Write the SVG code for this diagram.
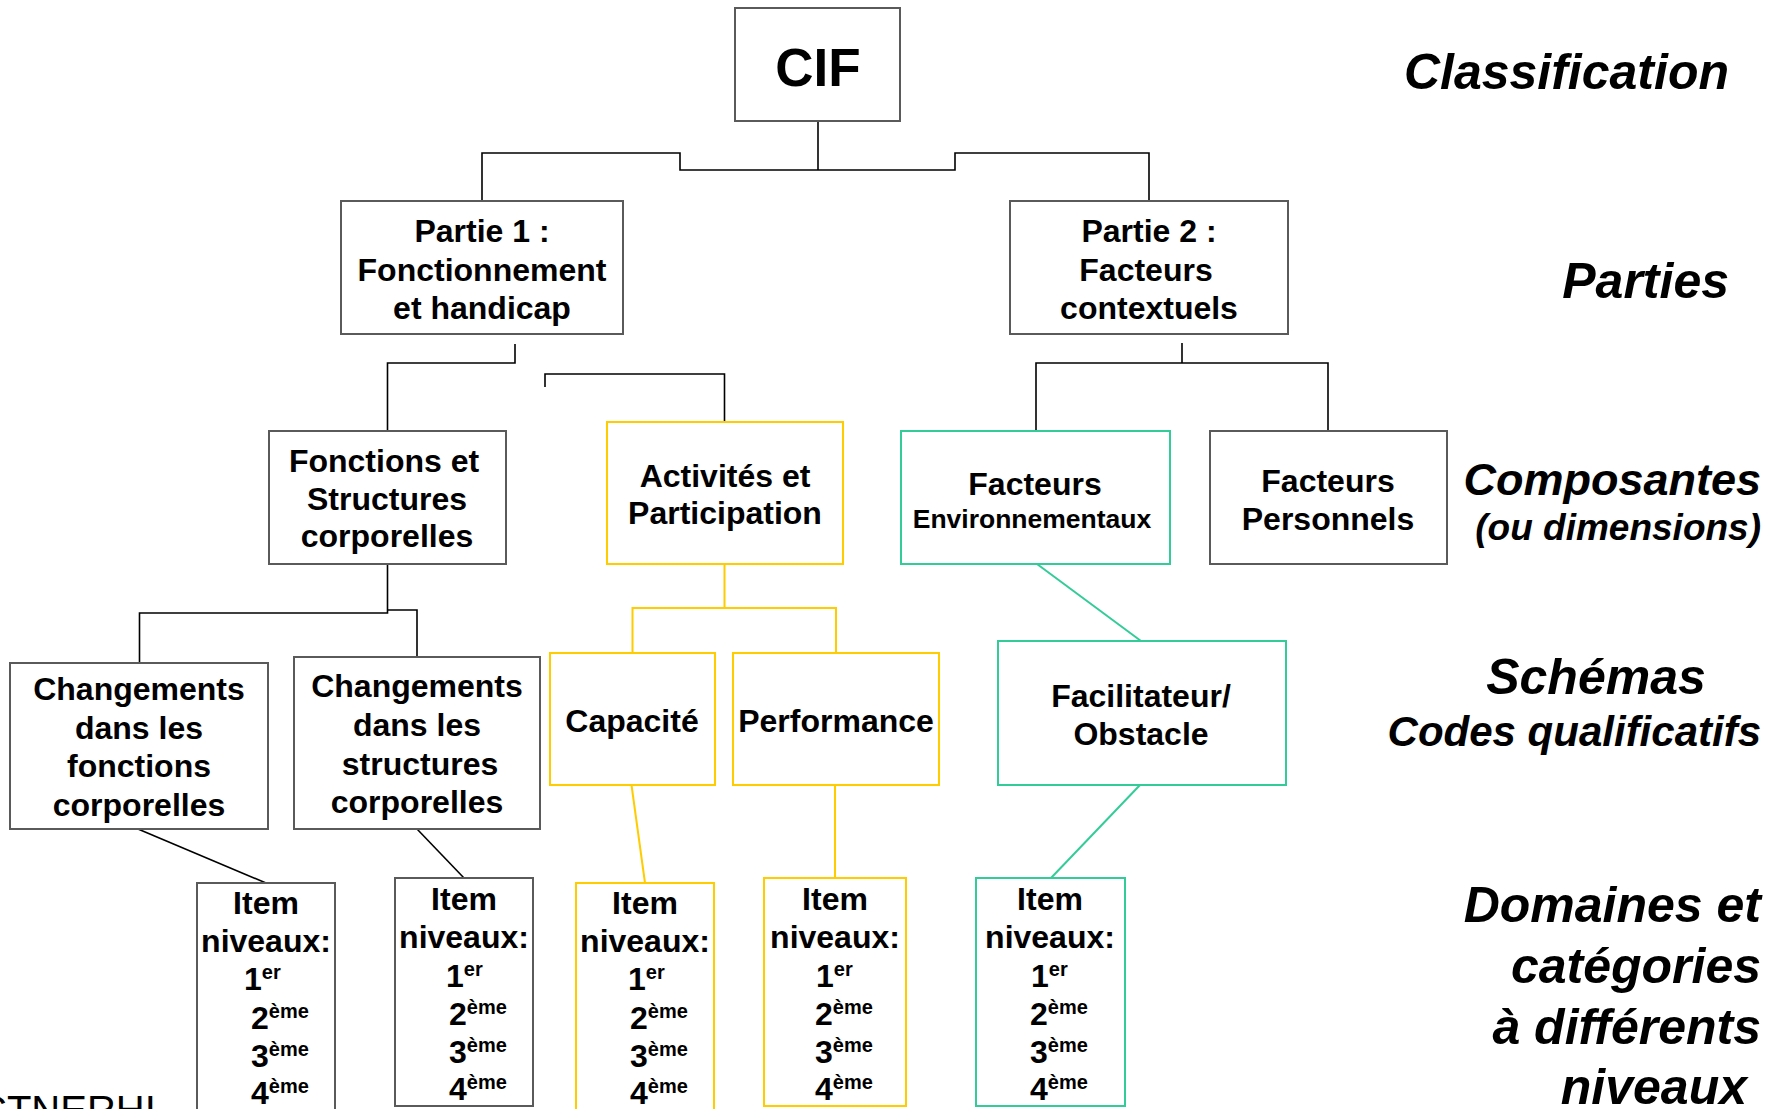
<svg xmlns="http://www.w3.org/2000/svg" width="1783" height="1109" viewBox="0 0 1783 1109">
<style>
text{font-family:"Liberation Sans",Arial,sans-serif;fill:#000}
.t{font-size:32px;font-weight:bold;text-anchor:middle}
.s{font-size:32px;font-weight:bold}
.sup{font-size:20px}
.lab{font-weight:bold;font-style:italic;text-anchor:end}
.bk{fill:#fff;stroke:#5a5a5a;stroke-width:2}
.yl{fill:#fff;stroke:#FFCC00;stroke-width:2}
.tl{fill:#fff;stroke:#33CC99;stroke-width:2}
.cb{fill:none;stroke:#000;stroke-width:1.6}
.cy{fill:none;stroke:#FFCC00;stroke-width:2}
.ct{fill:none;stroke:#33CC99;stroke-width:2}
</style>
<rect width="1783" height="1109" fill="#fff"/>
<g id="connectors">
<path class="cb" d="M818,121 V170"/>
<path class="cb" d="M482,201 V153 H680 V170 H955 V153 H1149 V201"/>
<path class="cb" d="M515,344 V363 H387.5 V431"/>
<path class="cb" d="M545,387 V374 H724.5 V422"/>
<path class="cb" d="M1182,343 V363 M1036,431 V363 H1328 V431"/>
<path class="cb" d="M387.5,564 V613 H139.5 V663 M387.5,610 H417 V657"/>
<path class="cb" d="M138,829 L266,883"/>
<path class="cb" d="M417,829 L464,878"/>
<path class="cy" d="M724.5,564 V608 M632.5,653 V608 H836 V653"/>
<path class="cy" d="M631.5,785 L645,883"/>
<path class="cy" d="M835,785 V878"/>
<path class="ct" d="M1037,564 L1141,641"/>
<path class="ct" d="M1140,785 L1051,878"/>
</g>
<g id="cif">
<rect class="bk" x="735" y="8" width="165" height="113"/>
<text x="818" y="86" style="font-size:53px;font-weight:bold;text-anchor:middle">CIF</text>
</g>
<g id="partie1">
<rect class="bk" x="341" y="201" width="282" height="133"/>
<text class="t" x="482" y="242">Partie 1 :</text>
<text class="t" x="482" y="281">Fonctionnement</text>
<text class="t" x="482" y="319">et handicap</text>
</g>
<g id="partie2">
<rect class="bk" x="1010" y="201" width="278" height="133"/>
<text class="t" x="1149" y="242">Partie 2 :</text>
<text class="t" x="1146" y="281">Facteurs</text>
<text class="t" x="1149" y="319">contextuels</text>
</g>
<g id="fonctions">
<rect class="bk" x="269" y="431" width="237" height="133"/>
<text class="t" x="384" y="472">Fonctions et</text>
<text class="t" x="387" y="510">Structures</text>
<text class="t" x="387" y="547">corporelles</text>
</g>
<g id="activites">
<rect class="yl" x="607" y="422" width="236" height="142"/>
<text class="t" x="725" y="487">Activités et</text>
<text class="t" x="725" y="524">Participation</text>
</g>
<g id="facteurs-env">
<rect class="tl" x="901" y="431" width="269" height="133"/>
<text class="t" x="1035" y="495">Facteurs</text>
<text class="t" x="1032" y="528" style="font-size:26.5px">Environnementaux</text>
</g>
<g id="facteurs-pers">
<rect class="bk" x="1210" y="431" width="237" height="133"/>
<text class="t" x="1328" y="492">Facteurs</text>
<text class="t" x="1328" y="530">Personnels</text>
</g>
<g id="changements-fonctions">
<rect class="bk" x="10" y="663" width="258" height="166"/>
<text class="t" x="139" y="700">Changements</text>
<text class="t" x="139" y="739">dans les</text>
<text class="t" x="139" y="777">fonctions</text>
<text class="t" x="139" y="816">corporelles</text>
</g>
<g id="changements-structures">
<rect class="bk" x="294" y="657" width="246" height="172"/>
<text class="t" x="417" y="697">Changements</text>
<text class="t" x="417" y="736">dans les</text>
<text class="t" x="420" y="775">structures</text>
<text class="t" x="417" y="813">corporelles</text>
</g>
<g id="capacite">
<rect class="yl" x="550" y="653" width="165" height="132"/>
<text class="t" x="632" y="732">Capacité</text>
</g>
<g id="performance">
<rect class="yl" x="733" y="653" width="206" height="132"/>
<text class="t" x="836" y="732">Performance</text>
</g>
<g id="facilitateur">
<rect class="tl" x="998" y="641" width="288" height="144"/>
<text class="t" x="1141" y="707">Facilitateur/</text>
<text class="t" x="1141" y="745">Obstacle</text>
</g>
<g id="item1">
<rect class="bk" x="197" y="883" width="138" height="240"/>
<text class="t" x="266" y="914">Item</text>
<text class="t" x="266" y="952">niveaux:</text>
<text class="s" x="244" y="990">1<tspan class="sup" dy="-11">er</tspan></text>
<text class="s" x="251" y="1029">2<tspan class="sup" dy="-11">ème</tspan></text>
<text class="s" x="251" y="1067">3<tspan class="sup" dy="-11">ème</tspan></text>
<text class="s" x="251" y="1104">4<tspan class="sup" dy="-11">ème</tspan></text>
</g>
<g id="item2">
<rect class="bk" x="395" y="878" width="138" height="228"/>
<text class="t" x="464" y="910">Item</text>
<text class="t" x="464" y="948">niveaux:</text>
<text class="s" x="446" y="987">1<tspan class="sup" dy="-11">er</tspan></text>
<text class="s" x="449" y="1025">2<tspan class="sup" dy="-11">ème</tspan></text>
<text class="s" x="449" y="1063">3<tspan class="sup" dy="-11">ème</tspan></text>
<text class="s" x="449" y="1100">4<tspan class="sup" dy="-11">ème</tspan></text>
</g>
<g id="item3">
<rect class="yl" x="576" y="883" width="138" height="240"/>
<text class="t" x="645" y="914">Item</text>
<text class="t" x="645" y="952">niveaux:</text>
<text class="s" x="628" y="990">1<tspan class="sup" dy="-11">er</tspan></text>
<text class="s" x="630" y="1029">2<tspan class="sup" dy="-11">ème</tspan></text>
<text class="s" x="630" y="1067">3<tspan class="sup" dy="-11">ème</tspan></text>
<text class="s" x="630" y="1104">4<tspan class="sup" dy="-11">ème</tspan></text>
</g>
<g id="item4">
<rect class="yl" x="764" y="878" width="142" height="228"/>
<text class="t" x="835" y="910">Item</text>
<text class="t" x="835" y="948">niveaux:</text>
<text class="s" x="816" y="987">1<tspan class="sup" dy="-11">er</tspan></text>
<text class="s" x="815" y="1025">2<tspan class="sup" dy="-11">ème</tspan></text>
<text class="s" x="815" y="1063">3<tspan class="sup" dy="-11">ème</tspan></text>
<text class="s" x="815" y="1100">4<tspan class="sup" dy="-11">ème</tspan></text>
</g>
<g id="item5">
<rect class="tl" x="976" y="878" width="149" height="228"/>
<text class="t" x="1050" y="910">Item</text>
<text class="t" x="1050" y="948">niveaux:</text>
<text class="s" x="1031" y="987">1<tspan class="sup" dy="-11">er</tspan></text>
<text class="s" x="1030" y="1025">2<tspan class="sup" dy="-11">ème</tspan></text>
<text class="s" x="1030" y="1063">3<tspan class="sup" dy="-11">ème</tspan></text>
<text class="s" x="1030" y="1100">4<tspan class="sup" dy="-11">ème</tspan></text>
</g>
<g id="labels">
<text class="lab" x="1729" y="89" style="font-size:50px">Classification</text>
<text class="lab" x="1729" y="298" style="font-size:50px">Parties</text>
<text class="lab" x="1761" y="495" style="font-size:45px">Composantes</text>
<text class="lab" x="1761" y="540" style="font-size:37px">(ou dimensions)</text>
<text class="lab" x="1596" y="694" style="font-size:50px;text-anchor:middle">Schémas</text>
<text class="lab" x="1761" y="746" style="font-size:42px">Codes qualificatifs</text>
<text class="lab" x="1761" y="922" style="font-size:50px">Domaines et</text>
<text class="lab" x="1761" y="983" style="font-size:50px">catégories</text>
<text class="lab" x="1761" y="1044" style="font-size:50px">à différents</text>
<text class="lab" x="1747" y="1104" style="font-size:50px">niveaux</text>
</g>
<text x="-22" y="1124" style="font-size:40px">CTNERHI</text>
</svg>
